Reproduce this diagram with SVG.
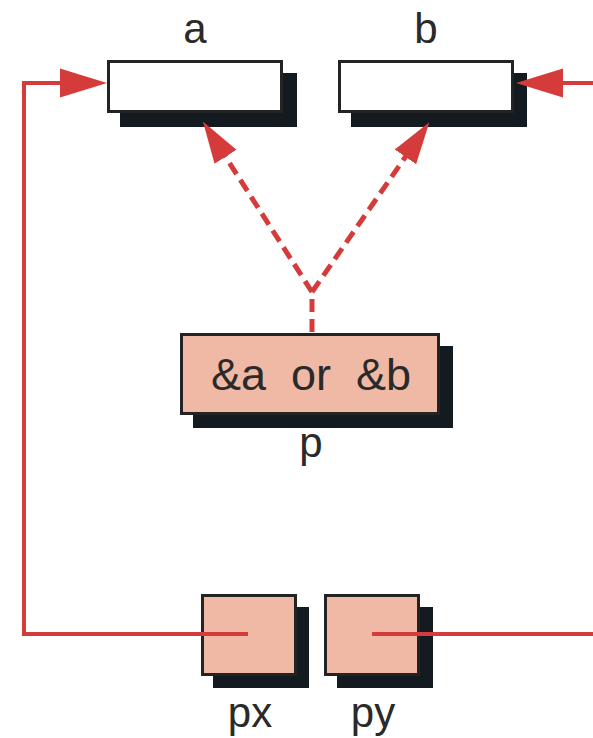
<svg xmlns="http://www.w3.org/2000/svg" width="593" height="738" viewBox="0 0 593 738">
<style>
.shadow{fill:#131b21}
.box{stroke:#232323;stroke-width:3}
.white{fill:#ffffff}
.salmon{fill:#efb9a6}
.lbl{font-family:"Liberation Sans",Arial,sans-serif;font-size:42px;fill:#2a2a2a;text-anchor:middle}
.inner{font-family:"Liberation Sans",Arial,sans-serif;font-size:45px;fill:#2a2a2a;text-anchor:middle;white-space:pre}
.wire{fill:none;stroke:#d43b3a;stroke-width:4}
.dash{fill:none;stroke:#d43b3a;stroke-width:5;stroke-dasharray:13 7}
</style>
<defs>
<marker id="arr" viewBox="0 -15 48 30" markerWidth="48" markerHeight="30" refX="1" refY="0" markerUnits="userSpaceOnUse" orient="auto">
<path d="M0,-14.5 L47,0 L0,14.5 z" fill="#d43b3a"/>
</marker>
<marker id="arrD" viewBox="0 -14 43 28" markerWidth="43" markerHeight="28" refX="1" refY="0" markerUnits="userSpaceOnUse" orient="auto">
<path d="M0,-13 L42,0 L0,13 z" fill="#d43b3a"/>
</marker>
</defs>

<g id="node-a">
<rect class="shadow" x="120" y="73" width="177" height="54"/>
<rect class="box white" x="108.5" y="61.5" width="173" height="50"/>
<text class="lbl" x="195" y="43">a</text>
</g>

<g id="node-b">
<rect class="shadow" x="351" y="73" width="176" height="54"/>
<rect class="box white" x="339.5" y="61.5" width="173" height="50"/>
<text class="lbl" x="426" y="43">b</text>
</g>

<g id="node-p">
<rect class="shadow" x="193" y="346" width="260" height="82"/>
<rect class="box salmon" x="181.5" y="334.5" width="257" height="79"/>
<text class="inner" x="311" y="390">&amp;a  or  &amp;b</text>
<text class="lbl" x="311" y="457">p</text>
</g>

<g id="node-px">
<rect class="shadow" x="213" y="607" width="96" height="81"/>
<rect class="box salmon" x="202.5" y="595.5" width="93" height="79"/>
<text class="lbl" x="250" y="727">px</text>
</g>

<g id="node-py">
<rect class="shadow" x="337" y="607" width="96" height="81"/>
<rect class="box salmon" x="325.5" y="595.5" width="93" height="79"/>
<text class="lbl" x="373" y="727">py</text>
</g>

<g id="connectors">
<path class="wire" d="M248,634 L24,634 L24,83 L61,83" marker-end="url(#arr)"/>
<path class="wire" d="M372,634 L593,634"/>
<path class="wire" d="M593,83 L562,83" marker-end="url(#arr)"/>
<path class="dash" d="M312,332 L312,294"/>
<path class="dash" d="M312,292 L225,156" marker-end="url(#arrD)"/>
<path class="dash" d="M312,292 L406,156" marker-end="url(#arrD)"/>
</g>
</svg>
